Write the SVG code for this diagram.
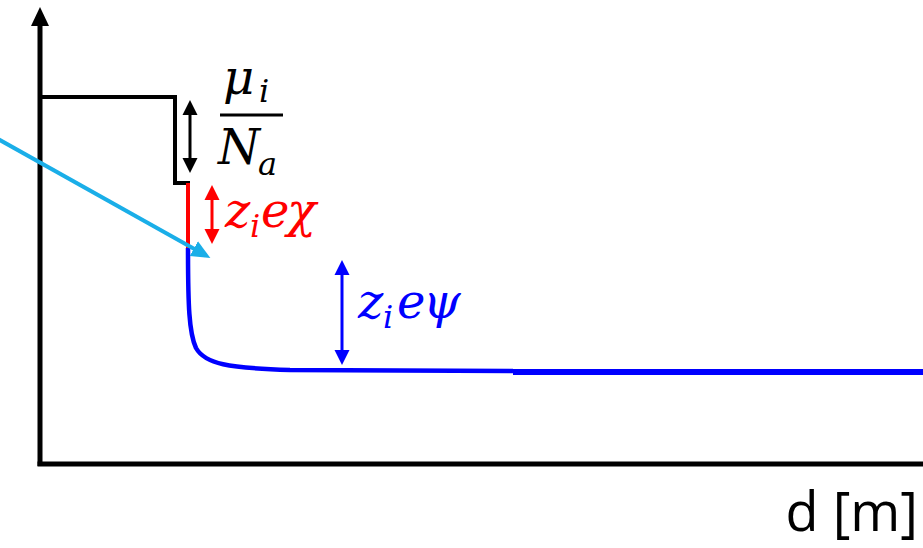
<svg xmlns="http://www.w3.org/2000/svg" width="923" height="548" viewBox="0 0 923 548">
<defs>
<style>
.math{font-family:"DejaVu Serif","Liberation Serif",serif;font-style:italic}
.big{font-size:48px}
.sub{font-size:32px}
.ax{fill:none;stroke:#000;stroke-width:5}
</style>
<marker id="ahK" markerUnits="userSpaceOnUse" markerWidth="16" markerHeight="16" refX="11" refY="8" orient="auto-start-reverse"><path d="M0,0.5 L15,8 L0,15.5 z" fill="#000"/></marker>
<marker id="ahR" markerUnits="userSpaceOnUse" markerWidth="16" markerHeight="16" refX="11" refY="8" orient="auto-start-reverse"><path d="M0,0.5 L15,8 L0,15.5 z" fill="#FF0000"/></marker>
<marker id="ahB" markerUnits="userSpaceOnUse" markerWidth="16" markerHeight="16" refX="11" refY="8" orient="auto-start-reverse"><path d="M0,0.5 L15,8 L0,15.5 z" fill="#0000FF"/></marker>
<marker id="ahC" markerUnits="userSpaceOnUse" markerWidth="20" markerHeight="18" refX="14" refY="9" orient="auto"><path d="M0,0.5 L19,9 L0,17.5 z" fill="#1AAEE8"/></marker>
</defs>
<g id="axes">
<path class="ax" d="M40,466 V22"/>
<path d="M40,7 L49,26 L31,26 z" fill="#000"/>
<path class="ax" d="M37.5,464 H923"/>
</g>
<g id="profile">
<path d="M40,97 H175 V183 H190" fill="none" stroke="#000" stroke-width="4"/>
<path d="M188,183 V248" fill="none" stroke="#FF0000" stroke-width="4"/>
<path d="M188,248 C188,305 189,333 196,348 C205,364 228,368 290,370 L513,371" fill="none" stroke="#0000FF" stroke-width="4.5"/>
<path d="M513,372 H923" fill="none" stroke="#0000FF" stroke-width="6"/>
</g>
<g id="connectors">
<line x1="190" y1="104" x2="190" y2="169" stroke="#000" stroke-width="3" marker-start="url(#ahK)" marker-end="url(#ahK)"/>
<line x1="212" y1="189" x2="212" y2="240" stroke="#FF0000" stroke-width="3" marker-start="url(#ahR)" marker-end="url(#ahR)"/>
<line x1="342" y1="264" x2="342" y2="361" stroke="#0000FF" stroke-width="3" marker-start="url(#ahB)" marker-end="url(#ahB)"/>
<line x1="-2" y1="139" x2="206" y2="255.5" stroke="#1AAEE8" stroke-width="4" marker-end="url(#ahC)"/>
</g>
<g id="label-mu" fill="#000">
<text class="math big" x="223" y="94">μ</text>
<text class="math sub" x="259" y="102">i</text>
<line x1="220" y1="115" x2="283" y2="115" stroke="#000" stroke-width="3"/>
<text class="math big" x="218" y="164">N</text>
<text class="math sub" x="258" y="175">a</text>
</g>
<g id="label-chi" fill="#FF0000">
<text class="math big" x="225" y="227">z</text>
<text class="math sub" x="250" y="237">i</text>
<text class="math big" x="261" y="227">e</text>
<text class="math big" x="287" y="227">χ</text>
</g>
<g id="label-psi" fill="#0000FF">
<text class="math big" x="358" y="318">z</text>
<text class="math sub" x="383" y="328">i</text>
<text class="math big" x="397" y="318">e</text>
<text class="math big" x="423" y="318">ψ</text>
</g>
<g id="label-d">
<text x="918" y="531" font-family="'Open Sans','Liberation Sans',sans-serif" font-size="54" text-anchor="end" fill="#000">d [m]</text>
</g>
</svg>
